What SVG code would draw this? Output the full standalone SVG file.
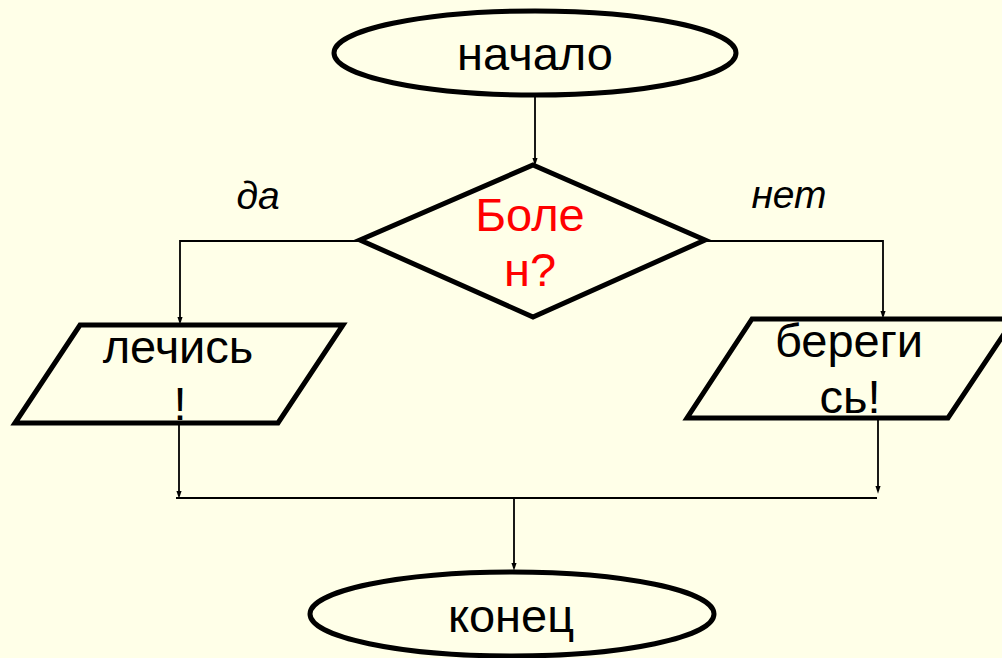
<svg xmlns="http://www.w3.org/2000/svg" width="1002" height="658" viewBox="0 0 1002 658">
<defs>
<marker id="ah" markerWidth="8" markerHeight="12" refX="8" refY="4" orient="auto" markerUnits="userSpaceOnUse" viewBox="0 0 12 8">
<path d="M0,0 L12,4 L0,8 Z" fill="#000"/>
</marker>
<style>
.shape{fill:none;stroke:#000;stroke-width:5;stroke-linejoin:miter}
.conn{fill:none;stroke:#000;stroke-width:1.8}
.t{font-family:"Liberation Sans",Arial,sans-serif;font-size:47px;fill:#000;text-anchor:middle}
.red{fill:#FF0000}
.lbl{font-family:"Liberation Sans",Arial,sans-serif;font-size:39px;font-style:italic;fill:#000;text-anchor:middle}
</style>
</defs>
<rect width="1002" height="658" fill="#FFFFE8"/>
<g id="connectors">
<path class="conn" d="M535,95 V163" marker-end="url(#ah)"/>
<path class="conn" d="M360,241 H180 V322" marker-end="url(#ah)"/>
<path class="conn" d="M705,241 H883 V316" marker-end="url(#ah)"/>
<path class="conn" d="M179,425 V496" marker-end="url(#ah)"/>
<path class="conn" d="M878,420 V491" marker-end="url(#ah)"/>
<path class="conn" style="stroke-width:2.2" d="M176,498 H877"/>
<path class="conn" d="M514,498 V568" marker-end="url(#ah)"/>
</g>
<g id="start">
<ellipse class="shape" cx="535" cy="53" rx="201" ry="42"/>
<text class="t" x="535" y="70">начало</text>
</g>
<g id="decision">
<polygon class="shape" points="533,165 705,240 533,317 360,240"/>
<text class="t red" x="530" y="231">Боле</text>
<text class="t red" x="530" y="286">н?</text>
</g>
<g id="label-yes"><text class="lbl" x="258" y="209">да</text></g>
<g id="label-no"><text class="lbl" x="789" y="208">нет</text></g>
<g id="treat">
<polygon class="shape" points="80,325 343,325 278,423 15,423"/>
<text class="t" x="178" y="363">лечись</text>
<text class="t" x="180" y="420">!</text>
</g>
<g id="care">
<polygon class="shape" points="752,319 1014,319 948,418 687,418"/>
<text class="t" x="849" y="357">береги</text>
<text class="t" x="850" y="413">сь!</text>
</g>
<g id="end">
<ellipse class="shape" cx="512" cy="614" rx="202" ry="42"/>
<text class="t" x="511" y="632">конец</text>
</g>
</svg>
